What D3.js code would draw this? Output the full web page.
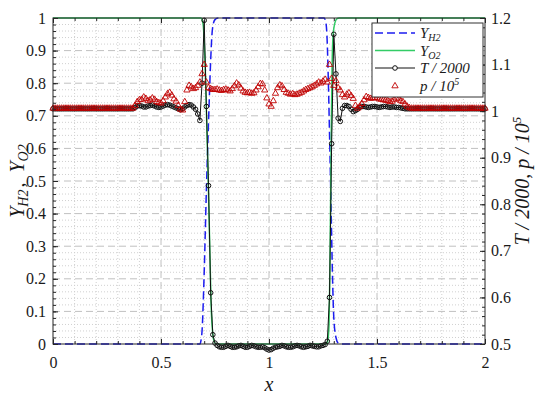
<!DOCTYPE html>
<html>
<head>
<meta charset="utf-8">
<script src="https://cdn.jsdelivr.net/npm/d3@7"></script>
<style>
  body { margin: 0; background: #fff; }
  text { font-family: "Liberation Serif", "Times New Roman", Times, "DejaVu Serif", serif; fill: #1a1a1a; }
</style>
</head>
<body>
<script>
// sampling positions of the T and p series (every 0.01 in x)
var gridX = d3.range(0, 201).map(function(i) { return i / 100; });

// T / 2000 on the grid (right axis)
var tempVals = [
  1.005,1.005,1.005,1.005,1.005,1.005,1.005,1.005,1.005,1.005,
  1.005,1.005,1.005,1.005,1.005,1.005,1.005,1.005,1.005,1.005,
  1.005,1.005,1.005,1.005,1.005,1.005,1.005,1.005,1.005,1.005,
  1.005,1.005,1.005,1.005,1.005,1.005,1.005,1.005,1.008,1.011,
  1.012,1.011,1.009,1.009,1.011,1.012,1.013,1.011,1.009,1.008,
  1.009,1.011,1.013,1.014,1.013,1.011,1.009,1.007,1.005,1.003,
  1.005,1.009,1.012,1.014,1.013,1.009,1.004,0.994,0.980,1.060,
  1.195,1.010,0.840,0.610,0.520,0.502,0.497,0.494,0.493,0.493,
  0.495,0.497,0.495,0.493,0.493,0.494,0.496,0.497,0.495,0.493,
  0.493,0.495,0.497,0.496,0.494,0.493,0.493,0.494,0.492,0.489,
  0.487,0.488,0.491,0.493,0.494,0.495,0.497,0.496,0.494,0.493,
  0.493,0.494,0.496,0.497,0.496,0.494,0.493,0.494,0.495,0.497,
  0.496,0.495,0.494,0.494,0.496,0.497,0.499,0.506,0.600,0.930,
  1.165,1.080,0.985,0.978,1.006,1.012,1.012,1.010,1.004,0.999,
  1.001,1.004,1.008,1.010,1.010,1.009,1.008,1.009,1.010,1.010,
  1.009,1.008,1.009,1.010,1.010,1.009,1.008,1.009,1.009,1.008,
  1.008,1.007,1.006,1.005,1.005,1.005,1.005,1.005,1.005,1.005,
  1.005,1.005,1.005,1.005,1.005,1.005,1.005,1.005,1.005,1.005,
  1.005,1.005,1.005,1.005,1.005,1.005,1.005,1.005,1.005,1.005,
  1.005,1.005,1.005,1.005,1.005,1.005,1.005,1.005,1.005,1.005,
  1.005
];

// p / 10^5 on the grid (right axis)
var presVals = [
  1.006,1.006,1.006,1.006,1.006,1.006,1.006,1.006,1.006,1.006,
  1.006,1.006,1.006,1.006,1.006,1.006,1.006,1.006,1.006,1.006,
  1.006,1.006,1.006,1.006,1.006,1.006,1.006,1.006,1.006,1.006,
  1.006,1.006,1.006,1.006,1.006,1.006,1.006,1.006,1.012,1.020,
  1.024,1.025,1.030,1.027,1.022,1.024,1.028,1.025,1.020,1.018,
  1.017,1.022,1.030,1.037,1.040,1.034,1.026,1.021,1.012,1.004,
  1.002,1.020,1.045,1.055,1.052,1.048,1.050,1.055,1.062,1.080,
  1.100,1.062,1.050,1.048,1.046,1.046,1.047,1.045,1.044,1.046,
  1.047,1.045,1.043,1.048,1.054,1.060,1.056,1.049,1.043,1.040,
  1.039,1.040,1.038,1.039,1.045,1.052,1.059,1.058,1.045,1.028,
  1.015,1.010,1.022,1.038,1.050,1.056,1.054,1.046,1.040,1.038,
  1.036,1.037,1.035,1.036,1.038,1.040,1.043,1.046,1.048,1.050,
  1.052,1.055,1.058,1.062,1.060,1.064,1.068,1.062,1.100,1.070,
  1.055,1.065,1.050,1.045,1.035,1.030,1.036,1.039,1.033,1.027,
  1.012,1.006,1.010,1.016,1.024,1.031,1.029,1.027,1.028,1.029,
  1.028,1.026,1.025,1.024,1.023,1.022,1.020,1.021,1.025,1.028,
  1.026,1.022,1.020,1.015,1.010,1.007,1.006,1.006,1.006,1.006,
  1.006,1.006,1.006,1.006,1.006,1.006,1.006,1.006,1.006,1.006,
  1.006,1.006,1.006,1.006,1.006,1.006,1.006,1.006,1.006,1.006,
  1.006,1.006,1.006,1.006,1.006,1.006,1.006,1.006,1.006,1.006,
  1.006
];

// mass fractions (left axis), [x, Y]
var yH2 = [[0,0],[0.68,0],[0.685,0.01],[0.69,0.04],[0.70,0.22],[0.71,0.47],[0.72,0.68],
  [0.73,0.87],[0.735,0.94],[0.74,0.975],[0.75,0.995],[0.765,1],[1.255,1],[1.262,0.99],
  [1.268,0.95],[1.275,0.8],[1.28,0.65],[1.285,0.5],[1.29,0.33],[1.295,0.18],[1.30,0.08],
  [1.31,0.02],[1.32,0.003],[1.33,0],[2,0]];
var yO2 = [[0,1],[0.685,1],[0.695,0.98],[0.70,0.93],[0.705,0.84],[0.71,0.72],[0.718,0.52],
  [0.727,0.26],[0.732,0.12],[0.739,0.035],[0.745,0.01],[0.755,0],[1.265,0],[1.272,0.01],
  [1.278,0.06],[1.282,0.23],[1.287,0.57],[1.292,0.85],[1.297,0.95],[1.305,0.985],
  [1.315,0.998],[1.325,1],[2,1]];

var xTicks = [0, 0.5, 1, 1.5, 2];
var yLeftTicks = [0, 0.1, 0.2, 0.3, 0.4, 0.5, 0.6, 0.7, 0.8, 0.9, 1];
var yRightTicks = [0.5, 0.6, 0.7, 0.8, 0.9, 1, 1.1, 1.2];

var width = 540, height = 396;
var pL = 53, pR = 485, pT = 18, pB = 344;
var serif = '"Liberation Serif", "Times New Roman", Times, "DejaVu Serif", serif';

var svg = d3.select("body").append("svg")
  .attr("width", width).attr("height", height);

var x = d3.scaleLinear().domain([0, 2]).range([pL, pR]);
var yL = d3.scaleLinear().domain([0, 1]).range([pB, pT]);
var yR = d3.scaleLinear().domain([0.5, 1.2]).range([pB, pT]);

var near = function(v, step) { return Math.abs(v / step - Math.round(v / step)) < 1e-6; };
var xMinor = d3.range(0, 21).map(function(i) { return i / 10; });
var yMinor = d3.range(0, 51).map(function(i) { return i / 50; });
var rMinor = d3.range(0, 36).map(function(i) { return 0.5 + i / 50; });

// grid
var grid = svg.append("g");
grid.selectAll(".vmin").data(xMinor.filter(function(d) { return !near(d, 0.5); }))
  .enter().append("line")
  .attr("x1", x).attr("x2", x).attr("y1", pT).attr("y2", pB)
  .attr("stroke", "#d0d0d0").attr("stroke-dasharray", "1,2");
grid.selectAll(".hmin").data(yMinor.filter(function(d) { return !near(d, 0.1); }))
  .enter().append("line")
  .attr("x1", pL).attr("x2", pR).attr("y1", yL).attr("y2", yL)
  .attr("stroke", "#d0d0d0").attr("stroke-dasharray", "1,2");
grid.selectAll(".vmaj").data(xTicks.slice(1, -1))
  .enter().append("line")
  .attr("x1", x).attr("x2", x).attr("y1", pT).attr("y2", pB)
  .attr("stroke", "#c0c0c0").attr("stroke-dasharray", "7,4");
grid.selectAll(".hmaj").data(yLeftTicks.slice(1, -1))
  .enter().append("line")
  .attr("x1", pL).attr("x2", pR).attr("y1", yL).attr("y2", yL)
  .attr("stroke", "#c0c0c0").attr("stroke-dasharray", "7,4");

svg.append("clipPath").attr("id", "clip").append("rect")
  .attr("x", pL).attr("y", pT - 1).attr("width", pR - pL).attr("height", pB - pT + 2);
var plot = svg.append("g").attr("clip-path", "url(#clip)");

var lineL = d3.line().x(function(d) { return x(d[0]); }).y(function(d) { return yL(d[1]); })
  .curve(d3.curveMonotoneX);

plot.append("path").datum(yH2).attr("d", lineL)
  .attr("fill", "none").attr("stroke", "#1c1cf0").attr("stroke-width", 1.5)
  .attr("stroke-dasharray", "8,4");
plot.append("path").datum(yO2).attr("d", lineL)
  .attr("fill", "none").attr("stroke", "#33cc66").attr("stroke-width", 1.5);

var tempPts = gridX.map(function(v, i) { return [v, tempVals[i]]; });
var presPts = gridX.map(function(v, i) { return [v, presVals[i]]; });

// T is drawn unclipped: its markers spill just under the bottom edge
var marks = svg.append("g");
marks.append("path").datum(tempPts)
  .attr("d", d3.line().x(function(d) { return x(d[0]); }).y(function(d) { return yR(d[1]); }))
  .attr("fill", "none").attr("stroke", "#111").attr("stroke-width", 1);
marks.selectAll(".tc").data(tempPts).enter().append("circle")
  .attr("cx", function(d) { return x(d[0]); }).attr("cy", function(d) { return yR(d[1]); })
  .attr("r", 2.3).attr("fill", "none").attr("stroke", "#111").attr("stroke-width", 1);

var tri = d3.symbol().type(d3.symbolTriangle).size(17);
marks.selectAll(".pt").data(presPts).enter().append("path")
  .attr("d", tri)
  .attr("transform", function(d) { return "translate(" + x(d[0]) + "," + yR(d[1]) + ")"; })
  .attr("fill", "none").attr("stroke", "#c00000").attr("stroke-width", 0.9);

// axes
var fmt = function(d) { return String(+d.toFixed(1)); };
function style(g) {
  g.attr("font-family", serif);
  g.select(".domain").remove();
  g.selectAll(".tick line").attr("stroke", "#262626");
  g.selectAll("text").attr("font-size", 16).attr("fill", "#1a1a1a");
}
svg.append("g").attr("transform", "translate(0," + pB + ")")
  .call(d3.axisBottom(x).tickValues(xTicks).tickFormat(fmt).tickSize(-5).tickPadding(13)).call(style);
svg.append("g").attr("transform", "translate(0," + pB + ")")
  .call(d3.axisBottom(x).tickValues(xMinor).tickFormat("").tickSize(-3)).call(style);
svg.append("g").attr("transform", "translate(0," + pT + ")")
  .call(d3.axisTop(x).tickValues(xTicks).tickFormat("").tickSize(-5)).call(style);
svg.append("g").attr("transform", "translate(0," + pT + ")")
  .call(d3.axisTop(x).tickValues(xMinor).tickFormat("").tickSize(-3)).call(style);
svg.append("g").attr("transform", "translate(" + pL + ",0)")
  .call(d3.axisLeft(yL).tickValues(yLeftTicks).tickFormat(fmt).tickSize(-5).tickPadding(7)).call(style);
svg.append("g").attr("transform", "translate(" + pL + ",0)")
  .call(d3.axisLeft(yL).tickValues(yMinor).tickFormat("").tickSize(-3)).call(style);
svg.append("g").attr("transform", "translate(" + pR + ",0)")
  .call(d3.axisRight(yR).tickValues(yRightTicks).tickFormat(fmt).tickSize(-5).tickPadding(6)).call(style);
svg.append("g").attr("transform", "translate(" + pR + ",0)")
  .call(d3.axisRight(yR).tickValues(rMinor).tickFormat("").tickSize(-3)).call(style);

svg.append("rect").attr("x", pL).attr("y", pT)
  .attr("width", pR - pL).attr("height", pB - pT)
  .attr("fill", "none").attr("stroke", "#262626").attr("stroke-width", 1);

// axis titles
svg.append("text").attr("x", x(1)).attr("y", 391).attr("text-anchor", "middle")
  .attr("font-size", 20).attr("font-style", "italic").text("x");

var lt = svg.append("text").attr("transform", "translate(24," + ((pT + pB) / 2) + ") rotate(-90)")
  .attr("text-anchor", "middle").attr("font-size", 20).attr("font-style", "italic");
lt.append("tspan").text("Y");
lt.append("tspan").attr("font-size", 14).attr("dy", 4).text("H2");
lt.append("tspan").attr("dy", -4).attr("dx", 2).text(",\u2002Y");
lt.append("tspan").attr("font-size", 14).attr("dy", 4).text("O2");

var rt = svg.append("text").attr("transform", "translate(529," + ((pT + pB) / 2) + ") rotate(-90)")
  .attr("text-anchor", "middle").attr("font-size", 20).attr("font-style", "italic");
rt.append("tspan").text("T / 2000, p / 10");
rt.append("tspan").attr("font-size", 13).attr("dy", -8).text("5");

// legend
var lg = svg.append("g");
lg.append("rect").attr("x", 372).attr("y", 23).attr("width", 111).attr("height", 74)
  .attr("fill", "#fff").attr("stroke", "#333").attr("stroke-width", 1);
var rows = [33, 50.5, 68, 86];
lg.append("line").attr("x1", 375).attr("x2", 415).attr("y1", rows[0]).attr("y2", rows[0])
  .attr("stroke", "#1c1cf0").attr("stroke-width", 1.5).attr("stroke-dasharray", "8,4");
lg.append("line").attr("x1", 375).attr("x2", 415).attr("y1", rows[1]).attr("y2", rows[1])
  .attr("stroke", "#33cc66").attr("stroke-width", 1.5);
lg.append("line").attr("x1", 375).attr("x2", 415).attr("y1", rows[2]).attr("y2", rows[2])
  .attr("stroke", "#111").attr("stroke-width", 1);
lg.append("circle").attr("cx", 395).attr("cy", rows[2]).attr("r", 2.3)
  .attr("fill", "#fff").attr("stroke", "#111").attr("stroke-width", 1);
lg.append("path").attr("d", tri).attr("transform", "translate(395," + rows[3] + ")")
  .attr("fill", "none").attr("stroke", "#c00000").attr("stroke-width", 0.9);

function legText(y) {
  return lg.append("text").attr("x", 420).attr("y", y + 5)
    .attr("font-size", 15).attr("font-style", "italic");
}
var t1 = legText(rows[0]);
t1.append("tspan").text("Y");
t1.append("tspan").attr("font-size", 10).attr("dy", 3).text("H2");
var t2 = legText(rows[1]);
t2.append("tspan").text("Y");
t2.append("tspan").attr("font-size", 10).attr("dy", 3).text("O2");
legText(rows[2]).text("T / 2000");
var t4 = legText(rows[3]);
t4.append("tspan").text("p / 10");
t4.append("tspan").attr("font-size", 10).attr("dy", -6).text("5");
</script>
</body>
</html>
